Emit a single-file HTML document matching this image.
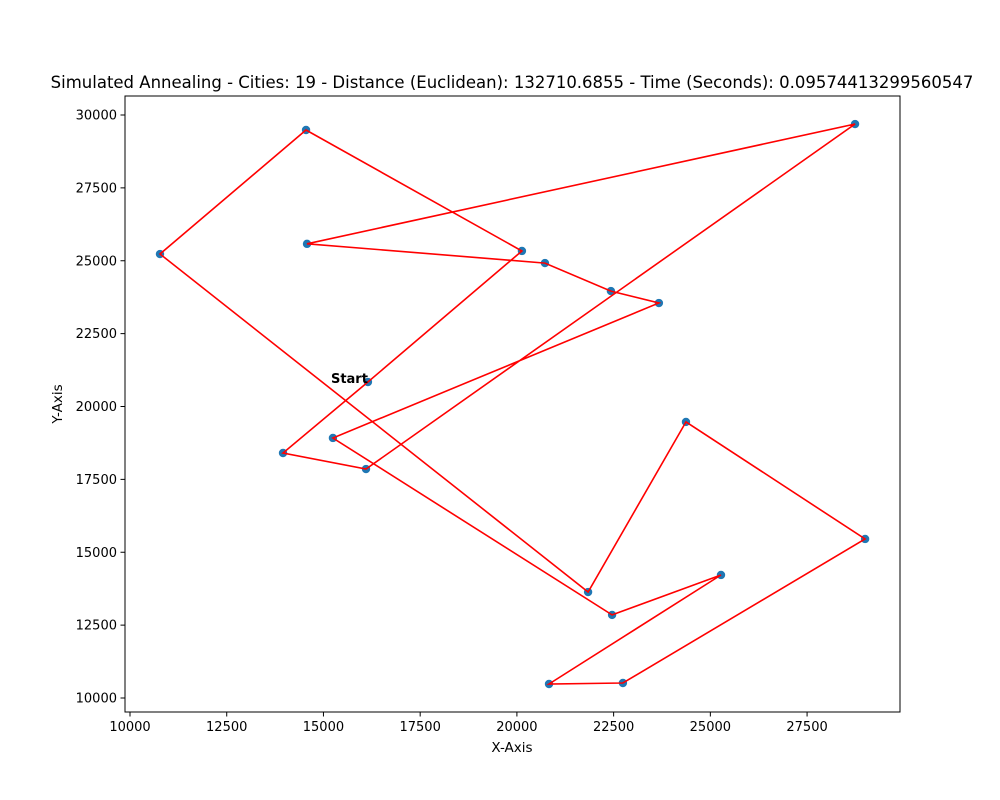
<!DOCTYPE html>
<html><head><meta charset="utf-8"><style>
html,body{margin:0;padding:0;background:#fff}
svg{display:block;font-family:"DejaVu Sans","Liberation Sans",sans-serif}
</style></head><body>
<svg id="chart" width="1000" height="800" viewBox="0 0 1000 800">
<rect width="1000" height="800" fill="#fff"/>
<text x="512" y="88" text-anchor="middle" font-size="16.5" fill="#000">Simulated Annealing - Cities: 19 - Distance (Euclidean): 132710.6855 - Time (Seconds): 0.09574413299560547</text>
<g id="ticks"></g>
<g id="lines"></g>
<g id="points"></g>
<rect x="125" y="96" width="775" height="616" fill="none" stroke="#000" stroke-width="1"/>
<text x="512" y="752" text-anchor="middle" font-size="13.5">X-Axis</text>
<text x="0" y="0" transform="translate(62,404) rotate(-90)" text-anchor="middle" font-size="13.5">Y-Axis</text>
</svg>
<script>
const tourX = [16150,13955,16100,28740,14575,20725,22430,23670,15245,22460,25275,20830,22740,29000,24370,21840,10775,14550,20130];
const tourY = [20840,18405,17855,29690,25580,24920,23960,23550,18920,12850,14220,10480,10515,15455,19470,13635,25230,29485,25335];
const xTicks = [10000,12500,15000,17500,20000,22500,25000,27500];
const yTicks = [10000,12500,15000,17500,20000,22500,25000,27500,30000];
const NS='http://www.w3.org/2000/svg';
function sx(v){return 130+(v-10000)*0.03869;}
function sy(v){return 698-(v-10000)*0.02915;}
function mk(tag,attrs,parent){const e=document.createElementNS(NS,tag);for(const k in attrs)e.setAttribute(k,attrs[k]);parent.appendChild(e);return e;}
const tg=document.getElementById('ticks');
xTicks.forEach(v=>{
  const x=sx(v);
  const l=mk('line',{x1:x,x2:x,y1:712,y2:716.5,stroke:'#000'},tg);
  
  
  const t=mk('text',{x:x,y:731,'text-anchor':'middle','font-size':'13'},tg);
  t.textContent=v;
  
  
});
yTicks.forEach(v=>{
  const y=sy(v);
  const l=mk('line',{x1:120.5,x2:125,y1:y,y2:y,stroke:'#000'},tg);
  
  
  const t=mk('text',{x:117,y:y+4.5,'text-anchor':'end','font-size':'13'},tg);
  t.textContent=v;
  
  
});
const pg=document.getElementById('points');
tourX.forEach((v,i)=>{
  const c=mk('circle',{cx:sx(v),cy:sy(tourY[i]),r:4.2,fill:'#1f77b4'},pg);
  
  
});
const lg=document.getElementById('lines');
let d='';
for(let i=0;i<=tourX.length;i++){const k=i%tourX.length;d+=(i?'L':'M')+sx(tourX[k]).toFixed(1)+','+sy(tourY[k]).toFixed(1);}
const p=mk('path',{d:d,fill:'none',stroke:'#ff0000','stroke-width':1.6},lg);


// redraw points under lines: move lines after points
document.getElementById('chart').insertBefore(pg,lg);
const st=mk('text',{x:sx(tourX[0]),y:sy(tourY[0])+1,'text-anchor':'end','font-size':'13','font-weight':'bold'},document.getElementById('chart'));
st.textContent='Start';


</script>
</body></html>
